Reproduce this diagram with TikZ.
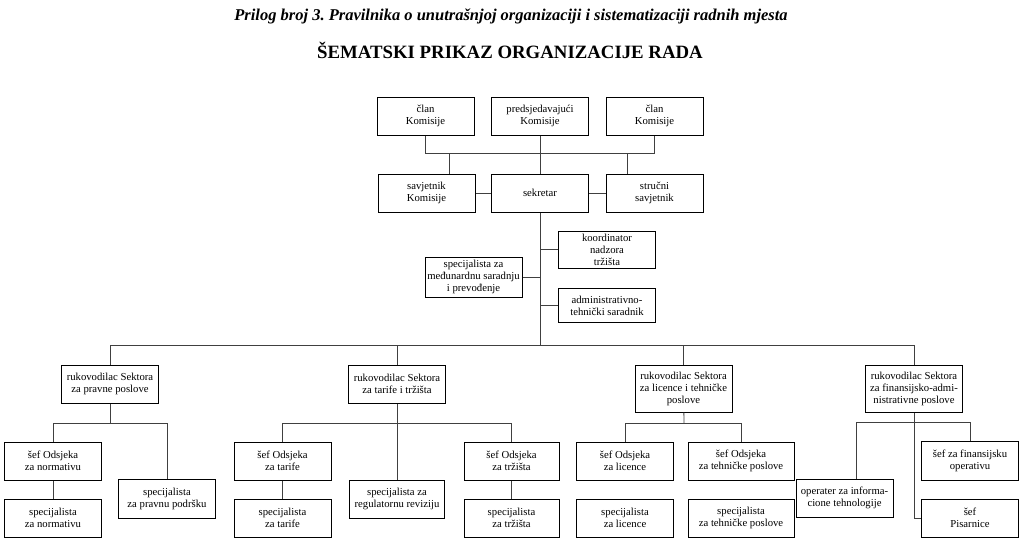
\documentclass[tikz,border=0pt]{standalone}
\usepackage{fontspec}
\setmainfont{Liberation Serif}
\frenchspacing

\begin{document}
\begin{tikzpicture}[x=1pt,y=-1pt]
		\tikzstyle{post}=[draw,line width=1pt,align=center,inner sep=0.5pt,minimum width=97pt,minimum height=38pt,font=\fontsize{10.7}{12}\selectfont]
		\tikzstyle{link}=[black!75,line width=0.8pt]

		\useasboundingbox (0,0) rectangle (1024,543);

		\node(title) at (511,16){\fontsize{16.5}{18}\selectfont\bfseries\itshape Prilog broj 3. Pravilnika o unutrašnjoj organizaciji i sistematizaciji radnih mjesta};
		\node(head) at (510,50){\fontsize{18.8}{22}\selectfont\bfseries ŠEMATSKI PRIKAZ ORGANIZACIJE RADA};

		% komisija
		\node[post](clan1) at (425.5,116){član\\Komisije};
		\node[post](pred) at (540,116){predsjedavajući\\Komisije};
		\node[post](clan2) at (654.5,116){član\\Komisije};

		\node[post](savj) at (426.5,193){savjetnik\\Komisije};
		\node[post](sekr) at (540,193){sekretar};
		\node[post](struc) at (654.5,193){stručni\\savjetnik};

		\node[post,minimum height=37pt](koord) at (607,249.5){koordinator\\nadzora\\tržišta};
		\node[post,minimum height=40pt](spmed) at (473.5,277){specijalista za\\međunardnu saradnju\\i prevođenje};
		\node[post,minimum height=34pt](admin) at (607,305.5){administrativno-\\tehnički saradnik};

		\coordinate(k1) at (425,153);
		\coordinate(ks) at (449,153);
		\coordinate(kt) at (627,153);
		\coordinate(trunk) at (540,345);

		\draw[link] (clan1) -- (clan1 |- k1) -- (clan2 |- k1) -- (clan2);
		\draw[link] (pred) -- (sekr);
		\draw[link] (ks) -- (ks |- savj.north);
		\draw[link] (kt) -- (kt |- struc.north);
		\draw[link] (savj) -- (sekr);
		\draw[link] (sekr) -- (struc);
		\draw[link] (sekr) -- (trunk);
		\draw[link] (koord) -- (koord -| sekr);
		\draw[link] (spmed) -- (spmed -| sekr);
		\draw[link] (admin) -- (admin -| sekr);

		% sektori
		\node[post](sek1) at (110,384){rukovodilac Sektora\\za pravne poslove};
		\node[post](sek2) at (397,384){rukovodilac Sektora\\za tarife i tržišta};
		\node[post,minimum height=47pt](sek3) at (683.5,388.5){rukovodilac Sektora\\za licence i tehničke\\poslove};
		\node[post,minimum height=47pt](sek4) at (914,388.5){rukovodilac Sektora\\za finansijsko-admi-\\nistrativne poslove};

		\draw[link] (sek1) -- (sek1 |- trunk) -- (sek4 |- trunk) -- (sek4);
		\draw[link] (sek2) -- (sek2 |- trunk);
		\draw[link] (sek3) -- (sek3 |- trunk);

		% pravni poslovi
		\node[post](ods1) at (53,461){šef Odsjeka\\za normativu};
		\node[post](spn) at (53,518){specijalista\\za normativu};
		\node[post,minimum height=39pt](sppr) at (167,498.5){specijalista\\za pravnu podršku};

		\coordinate(r1) at (110,423);
		\draw[link] (sek1) -- (r1);
		\draw[link] (ods1) -- (ods1 |- r1) -- (sppr |- r1) -- (sppr);
		\draw[link] (ods1) -- (spn);

		% tarife i trzista
		\node[post](tar1) at (282.5,461){šef Odsjeka\\za tarife};
		\node[post](tar2) at (282.5,518){specijalista\\za tarife};
		\node[post,minimum width=95pt](rev) at (397,499){specijalista za\\regulatornu reviziju};
		\node[post,minimum width=95pt](trz1) at (511.5,461){šef Odsjeka\\za tržišta};
		\node[post,minimum width=95pt](trz2) at (511.5,518){specijalista\\za tržišta};

		\coordinate(r2) at (397,423);
		\draw[link] (sek2) -- (rev);
		\draw[link] (tar1) -- (tar1 |- r2) -- (trz1 |- r2) -- (trz1);
		\draw[link] (tar1) -- (tar2);
		\draw[link] (trz1) -- (trz2);

		% licence i tehnicki poslovi
		\node[post](lic1) at (625,461){šef Odsjeka\\za licence};
		\node[post](lic2) at (625,518){specijalista\\za licence};
		\node[post,minimum width=106pt](teh1) at (741,461){šef Odsjeka\\za tehničke poslove};
		\node[post,minimum width=106pt](teh2) at (741,518){specijalista\\za tehničke poslove};

		\coordinate(r3) at (684,423);
		\draw[link] (sek3) -- (r3);
		\draw[link] (lic1) -- (lic1 |- r3) -- (teh1 |- r3) -- (teh1);

		% finansijsko-administrativni poslovi
		\node[post](it) at (844.5,498){operater za informa-\\cione tehnologije};
		\node[post,minimum height=39pt](fin) at (970,460.5){šef za finansijsku\\operativu};
		\node[post](pis) at (970,518){šef\\Pisarnice};

		\coordinate(r4) at (856,422);
		\draw[link] (sek4) |- (pis);
		\draw[link] (fin) -- (fin |- r4) -- (r4) -- (r4 |- it.north);
	\end{tikzpicture}
\end{document}
